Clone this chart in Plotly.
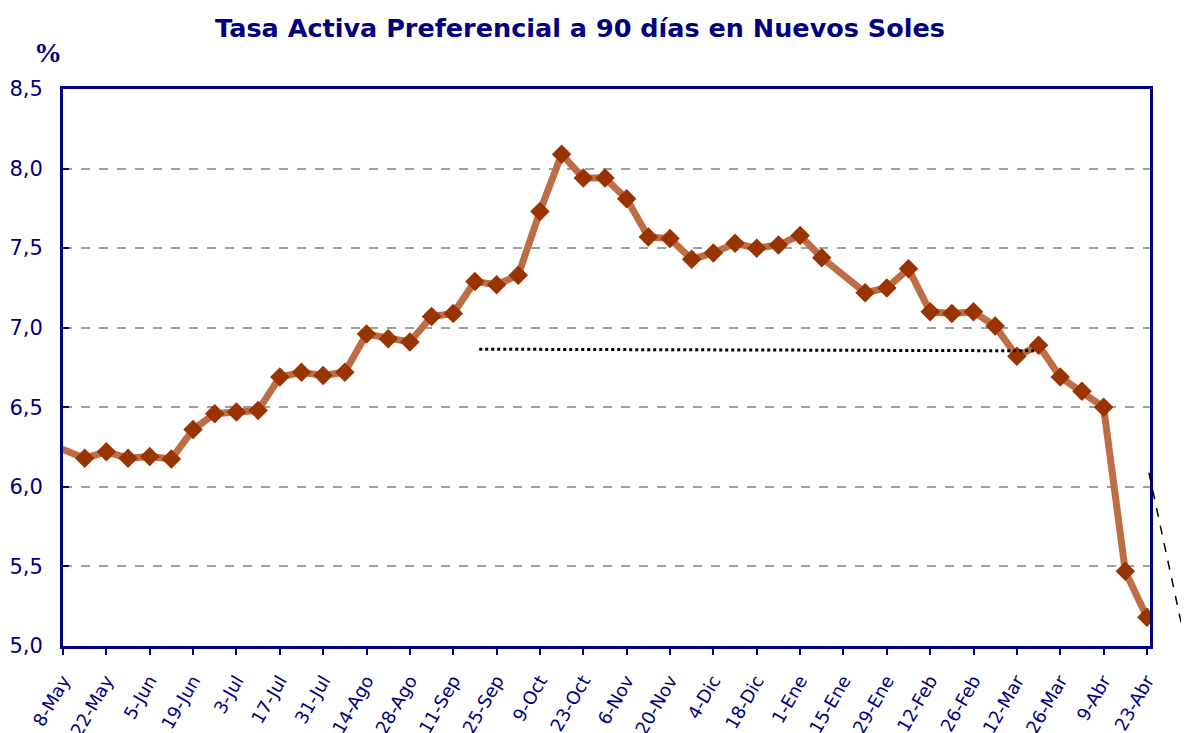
import plotly.graph_objects as go

# Weekly observations; index 0 = 8-May, index -1 = 1-May (off the left edge)
weeks = list(range(-1, 51))
rates = [6.29, None,
         6.18, 6.22, 6.18, 6.19, 6.175, 6.36, 6.46, 6.47, 6.48,
         6.69, 6.72, 6.70, 6.72, 6.96, 6.93, 6.91, 7.07, 7.09,
         7.29, 7.27, 7.33, 7.73, 8.09, 7.94, 7.94, 7.81, 7.57,
         7.56, 7.43, 7.47, 7.53, 7.50, 7.52, 7.58, 7.44, None,
         7.22, 7.25, 7.37, 7.10, 7.09, 7.10, 7.01, 6.82, 6.89,
         6.69, 6.60, 6.50, 5.47, 5.18]

tick_labels = ["8-May", "22-May", "5-Jun", "19-Jun", "3-Jul", "17-Jul", "31-Jul",
               "14-Ago", "28-Ago", "11-Sep", "25-Sep", "9-Oct", "23-Oct", "6-Nov",
               "20-Nov", "4-Dic", "18-Dic", "1-Ene", "15-Ene", "29-Ene", "12-Feb",
               "26-Feb", "12-Mar", "26-Mar", "9-Abr", "23-Abr"]
tick_weeks = [2 * k for k in range(len(tick_labels))]

y_ticks = [5.0, 5.5, 6.0, 6.5, 7.0, 7.5, 8.0, 8.5]

# reference level (dotted line) and its week span
ref_level_start = 6.865
ref_level_end = 6.855
ref_week_start = 19.2
ref_week_end = 44.8

NAVY = "#000080"
FONT = "DejaVu Sans, Arial, sans-serif"

fig = go.Figure()

fig.add_trace(go.Scatter(
    x=weeks, y=rates, mode="lines", connectgaps=True,
    line=dict(color="#BE6E45", width=7),
    hoverinfo="skip", showlegend=False,
))
fig.add_trace(go.Scatter(
    x=weeks, y=rates, mode="markers",
    marker=dict(symbol="diamond", size=15, color="#993300",
                line=dict(width=0)),
    showlegend=False,
))

fig.add_shape(type="line", xref="x", yref="y",
              x0=ref_week_start, y0=ref_level_start,
              x1=ref_week_end, y1=ref_level_end,
              line=dict(color="black", width=3, dash="dot"))

fig.add_shape(type="line", xref="paper", yref="paper",
              x0=0.999, y0=0.311, x1=1.052, y1=-0.17,
              line=dict(color="black", width=1.5, dash="dash"))

fig.update_layout(
    width=1189, height=725,
    paper_bgcolor="white", plot_bgcolor="white",
    margin=dict(l=55, r=47, t=81, b=87, autoexpand=False),
    separators=", ",
    font=dict(family=FONT, color=NAVY),
    title=dict(text="<b>Tasa Activa Preferencial a 90 días en Nuevos Soles</b>",
               xref="container", yref="container",
               x=0.4811, xanchor="center", y=0.9724, yanchor="middle",
               font=dict(size=25.5, color=NAVY, family=FONT)),
    xaxis=dict(range=[0, 50.14], tickmode="array", tickvals=tick_weeks,
               ticktext=tick_labels, tickangle=-60, automargin=False,
               ticklabelstandoff=8,
               tickfont=dict(size=18, color=NAVY, family=FONT),
               showgrid=False, zeroline=False,
               showline=True, linecolor=NAVY, linewidth=3, mirror=True,
               ticks="outside", ticklen=6, tickwidth=2, tickcolor=NAVY),
    yaxis=dict(range=[5.0, 8.5], tickmode="array", tickvals=y_ticks,
               tickformat=".1f", automargin=False, ticklabelstandoff=13,
               tickfont=dict(size=21, color=NAVY, family=FONT),
               showgrid=True, gridcolor="#A0A0A0", gridwidth=2,
               griddash="dash", zeroline=False,
               showline=True, linecolor=NAVY, linewidth=3, mirror=True,
               ticks="inside", ticklen=6, tickwidth=2, tickcolor=NAVY),
    annotations=[dict(text="<b>%</b>", xref="paper", yref="paper",
                      x=-0.0135, y=1.066, xanchor="center", yanchor="middle",
                      showarrow=False,
                      font=dict(size=28, color=NAVY,
                                family="Times New Roman, Liberation Serif, serif"))],
)

fig.write_html("out.html")
